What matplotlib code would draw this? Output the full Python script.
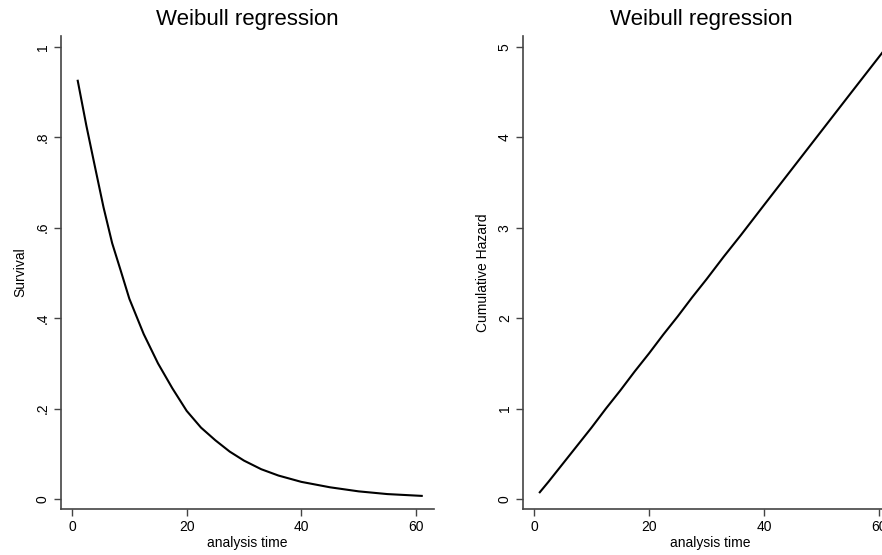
import matplotlib
matplotlib.use('Agg')
import matplotlib.pyplot as plt
from matplotlib.ticker import FuncFormatter

plt.rcParams['font.family'] = ['Liberation Sans', 'DejaVu Sans']

# Values.
times = [1, 2.5, 4, 5.5, 7, 8.5, 10, 12.5, 15, 17.5, 20, 22.5, 25, 27.5,
         30, 33, 36, 40, 45, 50, 55, 61]
survival = [0.925, 0.826, 0.735, 0.645, 0.566, 0.505, 0.443, 0.365, 0.300,
            0.245, 0.195, 0.158, 0.130, 0.105, 0.085, 0.066, 0.052, 0.038,
            0.026, 0.017, 0.011, 0.007]
cum_hazard = [0.075, 0.19, 0.31, 0.43, 0.55, 0.67, 0.79, 1.00, 1.20, 1.41,
              1.61, 1.82, 2.02, 2.23, 2.43, 2.68, 2.92, 3.25, 3.66, 4.07,
              4.48, 4.97]

x_ticks = [0, 20, 40, 60]
surv_ticks = [0, 0.2, 0.4, 0.6, 0.8, 1]
haz_ticks = [0, 1, 2, 3, 4, 5]

W, H = 882, 555
fig = plt.figure(figsize=(W / 100, H / 100), dpi=100)


def stata_fmt(v, pos):
    # Stata style: ".2" instead of "0.2"
    if abs(v - round(v)) < 1e-9:
        return str(int(round(v)))
    return ('%g' % v).lstrip('0')


def style_axes(ax, yticks, ylabel):
    for side in ['top', 'right']:
        ax.spines[side].set_visible(False)
    for side in ['left', 'bottom']:
        ax.spines[side].set_color('#444444')
        ax.spines[side].set_linewidth(1.2)
    ax.set_xticks(x_ticks)
    ax.set_yticks(yticks)
    ax.yaxis.set_major_formatter(FuncFormatter(stata_fmt))
    ax.tick_params(axis='both', direction='out', length=5, width=1,
                   color='#444444', labelsize=10, pad=3)
    for lab in ax.get_yticklabels():
        lab.set_rotation(90)
        lab.set_va('center')
    ax.set_xlabel('analysis time', fontsize=10, labelpad=1)
    ax.set_ylabel(ylabel, fontsize=10, labelpad=6)
    ax.set_title('Weibull regression', fontsize=16, pad=8)


# Left panel: survival
ax1 = fig.add_axes([61 / W, (H - 509) / H, (434 - 61) / W, (509 - 36) / H])
ax1.plot(times, survival, color='black', lw=1.5)
ax1.set_xlim(-1.92, 63.14)
ax1.set_ylim(-0.022, 1.024)
style_axes(ax1, surv_ticks, 'Survival')

# Right panel: cumulative hazard (runs past the right edge like the original)
ax2 = fig.add_axes([523 / W, (H - 509) / H, 374 / W, (509 - 36) / H])
ax2.plot(times, cum_hazard, color='black', lw=1.5)
ax2.set_xlim(-1.92, 63.14)
ax2.set_ylim(-0.11, 5.12)
style_axes(ax2, haz_ticks, 'Cumulative Hazard')
ax2.title.set_position((0.477, 1.0))

fig.savefig('out.png', dpi=100)
